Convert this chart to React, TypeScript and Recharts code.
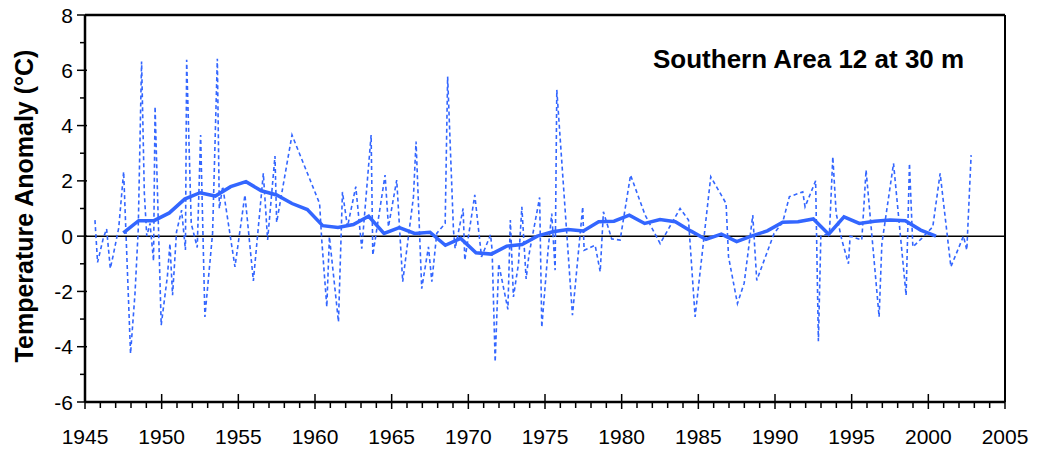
import React from "react";
import { LineChart, Line, XAxis, YAxis, ReferenceLine } from "recharts";

const FONT = '"Liberation Sans", Arial, Helvetica, sans-serif';
const BLUE = "#3366ff";

// annual mean anomaly, plotted at mid-year
const annualYears = [
  1947.5, 1948.5, 1949.5, 1950.5, 1951.5, 1952.5, 1953.5, 1954.5, 1955.5, 1956.5,
  1957.5, 1958.5, 1959.5, 1960.5, 1961.5, 1962.5, 1963.5, 1964.5, 1965.5, 1966.5,
  1967.5, 1968.5, 1969.5, 1970.5, 1971.5, 1972.5, 1973.5, 1974.5, 1975.5, 1976.5,
  1977.5, 1978.5, 1979.5, 1980.5, 1981.5, 1982.5, 1983.5, 1984.5, 1985.5, 1986.5,
  1987.5, 1988.5, 1989.5, 1990.5, 1991.5, 1992.5, 1993.5, 1994.5, 1995.5, 1996.5,
  1997.5, 1998.5, 1999.5, 2000.5,
];
const annualValues = [
  0.12, 0.56, 0.56, 0.84, 1.34, 1.57, 1.45, 1.79, 1.97, 1.64,
  1.49, 1.18, 0.96, 0.38, 0.31, 0.42, 0.72, 0.1, 0.31, 0.1,
  0.14, -0.33, -0.08, -0.6, -0.65, -0.36, -0.3, 0.0, 0.16, 0.24,
  0.19, 0.52, 0.54, 0.76, 0.46, 0.6, 0.52, 0.19, -0.12, 0.07,
  -0.2, 0.01, 0.19, 0.5, 0.52, 0.62, 0.07, 0.7, 0.46, 0.54,
  0.58, 0.56, 0.22, 0.0,
];

// individual observations
const obsYears = [
  1945.65, 1945.82, 1946.19, 1946.41, 1946.65, 1946.84, 1947.2, 1947.52, 1947.97, 1948.26,
  1948.47, 1948.69, 1948.87, 1949.03, 1949.24, 1949.47, 1949.57, 1949.97, 1950.37, 1950.54,
  1950.71, 1950.97, 1951.3, 1951.55, 1951.63, 1951.93, 1952.32, 1952.54, 1952.82, 1953.32,
  1953.63, 1953.76, 1953.98, 1954.78, 1955.43, 1955.98, 1956.63, 1956.91, 1957.39, 1957.5,
  1958.5, 1960.3, 1960.44, 1960.77, 1960.94, 1961.53, 1961.79, 1962.12, 1962.66, 1963.05,
  1963.66, 1963.77, 1964.57, 1964.79, 1965.33, 1965.72, 1966.42, 1966.59, 1966.96, 1967.4,
  1967.62, 1967.94, 1968.49, 1968.65, 1969.03, 1969.14, 1969.66, 1969.77, 1970.42, 1970.86,
  1971.45, 1971.55, 1971.75, 1971.98, 1972.58, 1972.74, 1972.94, 1973.27, 1973.49, 1973.77,
  1973.95, 1974.65, 1974.79, 1975.2, 1975.44, 1975.66, 1975.77, 1976.79, 1977.46, 1977.55,
  1978.27, 1978.6, 1978.81, 1979.35, 1979.9, 1980.58, 1981.53, 1982.51, 1983.81, 1984.36,
  1984.79, 1985.81, 1986.81, 1986.97, 1987.55, 1987.99, 1988.55, 1988.81, 1989.94, 1990.5,
  1990.94, 1991.81, 1991.96, 1992.65, 1992.83, 1992.99, 1993.55, 1993.77, 1993.99, 1994.36,
  1994.79, 1994.9, 1995.66, 1995.94, 1996.79, 1996.97, 1997.73, 1998.55, 1998.77, 1998.99,
  1999.57, 2000.29, 2000.77, 2001.47, 2002.29, 2002.51, 2002.79,
];
const obsValues = [
  0.58, -0.95, -0.08, 0.26, -1.17, -0.69, 0.3, 2.33, -4.25, -2.08,
  0.22, 6.32, 1.55, 0.0, 0.46, -0.9, 4.69, -3.22, -1.47, -0.27,
  -2.14, 0.16, 0.94, -0.5, 6.38, 0.45, -0.41, 3.66, -2.92, 0.1,
  6.42, 1.0, 1.8, -1.11, 1.49, -1.62, 2.27, -0.14, 2.9, 0.5,
  3.66, 1.18, -0.14, -2.56, -0.02, -3.1, 1.6, 0.34, 1.79, -0.45,
  3.66, -0.69, 2.21, 0.34, 2.03, -1.65, 1.42, 3.42, -1.9, -0.39,
  -1.65, 0.1, 0.46, 5.77, 0.22, -0.45, 1.0, -0.87, 1.49, -0.75,
  0.05, -0.5, -4.55, -1.0, -2.65, 0.58, -2.2, -1.0, 1.06, -1.55,
  -0.69, 1.4, -3.3, -0.5, 0.82, -1.23, 5.29, -2.86, 1.06, -0.51,
  -0.33, -1.29, 0.88, -0.1, -0.14, 2.21, 0.76, -0.27, 1.0, 0.58,
  -2.92, 2.15, 1.18, -0.75, -2.44, -1.7, 0.76, -1.6, 0.1, 0.5,
  1.43, 1.6, 1.06, 2.0, -3.8, 0.0, 0.1, 2.87, 0.82, -0.14,
  -1.0, 0.0, -0.14, 2.39, -2.92, -0.27, 2.63, -2.14, 2.63, -0.39,
  -0.08, 0.34, 2.27, -1.11, 0.0, -0.5, 2.93,
];

const yTicks = [-6, -5, -4, -3, -2, -1, 0, 1, 2, 3, 4, 5, 6, 7, 8];
const xTicks = [
  1945, 1946, 1947, 1948, 1949, 1950, 1951, 1952, 1953, 1954, 1955, 1956, 1957, 1958, 1959,
  1960, 1961, 1962, 1963, 1964, 1965, 1966, 1967, 1968, 1969, 1970, 1971, 1972, 1973, 1974,
  1975, 1976, 1977, 1978, 1979, 1980, 1981, 1982, 1983, 1984, 1985, 1986, 1987, 1988, 1989,
  1990, 1991, 1992, 1993, 1994, 1995, 1996, 1997, 1998, 1999, 2000, 2001, 2002, 2003, 2004,
  2005,
];

const obsData = obsYears.map((year, i) => ({ year, value: obsValues[i] }));
const annualData = annualYears.map((year, i) => ({ year, value: annualValues[i] }));

function YTick({ x, y, payload }: any) {
  const v = payload.value;
  const major = v % 2 === 0;
  return (
    <g>
      <line x1={x - (major ? 8 : 5)} x2={x + (major ? 2 : 0)} y1={y} y2={y} stroke="#000" strokeWidth={1.5} />
      {major && (
        <text x={x - 12} y={y} dy="0.36em" textAnchor="end" fontSize={21} fontFamily={FONT} fill="#000">
          {v}
        </text>
      )}
    </g>
  );
}

function XTick({ x, y, payload }: any) {
  const v = payload.value;
  const major = v % 5 === 0;
  return (
    <g>
      <line x1={x} x2={x} y1={y - (major ? 8 : 0)} y2={y + (major ? 7 : 6)} stroke="#000" strokeWidth={1.5} />
      {major && (
        <text x={x} y={y + 42} textAnchor="middle" fontSize={21} fontFamily={FONT} fill="#000">
          {v}
        </text>
      )}
    </g>
  );
}

function YTitle() {
  return (
    <text
      x={24}
      y={206}
      transform="rotate(-90, 24, 206)"
      textAnchor="middle"
      dominantBaseline="central"
      fontSize={25}
      fontWeight="bold"
      fontFamily={FONT}
      fill="#000"
    >
      Temperature Anomaly (°C)
    </text>
  );
}

export default function App() {
  return (
    <div style={{ position: "absolute", left: 0, top: 0, width: 1037, height: 453, background: "#fff" }}>
      <LineChart width={1037} height={453} margin={{ top: 15, right: 32, bottom: 0, left: 0 }}>
        <XAxis
          dataKey="year"
          type="number"
          domain={[1945, 2005]}
          ticks={xTicks}
          interval={0}
          height={51}
          tickSize={0}
          tickMargin={0}
          tickLine={false}
          tick={<XTick />}
          axisLine={{ stroke: "#000", strokeWidth: 2.5 }}
          allowDataOverflow
        />
        <YAxis
          type="number"
          domain={[-6, 8]}
          ticks={yTicks}
          interval={0}
          width={85}
          tickSize={0}
          tickMargin={0}
          tickLine={false}
          tick={<YTick />}
          axisLine={{ stroke: "#000", strokeWidth: 2.5 }}
          label={<YTitle />}
          allowDataOverflow
        />
        <ReferenceLine y={8} stroke="#000" strokeWidth={2.5} />
        <ReferenceLine x={2005} stroke="#000" strokeWidth={2} />
        <ReferenceLine y={0} stroke="#000" strokeWidth={1.5} />
        <Line
          data={obsData}
          dataKey="value"
          type="linear"
          stroke={BLUE}
          strokeWidth={1.6}
          strokeDasharray="4 3"
          dot={false}
          isAnimationActive={false}
        />
        <Line
          data={annualData}
          dataKey="value"
          type="linear"
          stroke={BLUE}
          strokeWidth={3.5}
          dot={false}
          isAnimationActive={false}
        />
      </LineChart>
      <div
        style={{
          position: "absolute",
          left: 653,
          top: 46,
          fontFamily: FONT,
          fontSize: 26,
          fontWeight: "bold",
          lineHeight: "26px",
          whiteSpace: "nowrap",
          color: "#000",
        }}
      >
        Southern Area 12 at 30 m
      </div>
    </div>
  );
}
